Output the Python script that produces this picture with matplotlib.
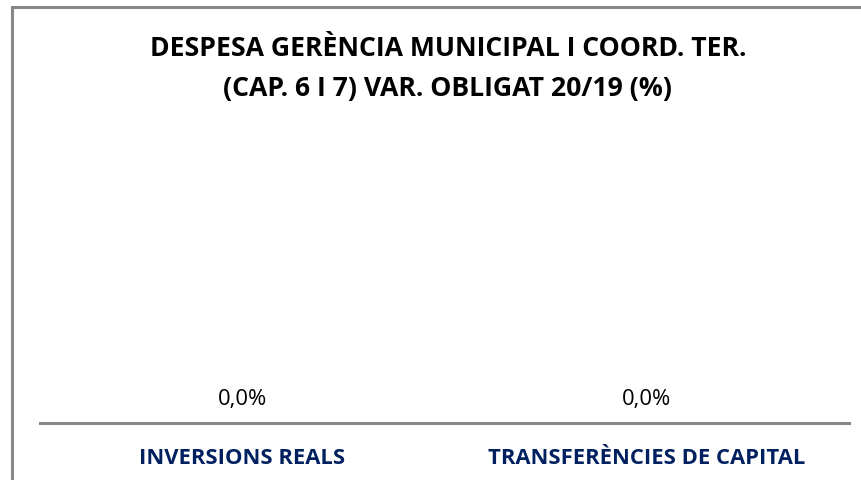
import matplotlib
matplotlib.use("Agg")
import matplotlib.pyplot as plt
from matplotlib.patches import Rectangle

categories = ["INVERSIONS REALS", "TRANSFERÈNCIES DE CAPITAL"]
var_values = [0.0, 0.0]
title = "DESPESA GERÈNCIA MUNICIPAL I COORD. TER.\n(CAP. 6 I 7) VAR. OBLIGAT 20/19 (%)"

plt.rcParams['font.family'] = ['Open Sans', 'DejaVu Sans']

fig = plt.figure(figsize=(8.62, 4.81), dpi=100)
fig.patch.set_facecolor("white")

# chart area border (open at right/bottom, as in the cropped original)
fig.patches.append(Rectangle((12/862, -0.1), 1.2, (481-8)/481 + 0.1,
                             transform=fig.transFigure, fill=False,
                             edgecolor="#888888", linewidth=2.2, zorder=0))

ax = fig.add_axes([40/862, (481-424)/481, 809/862, 0.55])
x = range(len(categories))
bars = ax.bar(x, var_values, width=0.5, color="#4472c4")
ax.set_xlim(-0.5, len(categories) - 0.5)
ax.set_ylim(0, 1)

for xi, v in zip(x, var_values):
    ax.annotate(f"{v:.1f}%".replace(".", ","), (xi, v), xytext=(0, 24),
                textcoords="offset pixels", ha="center", va="center",
                fontsize=15.8, color="black")

for s in ["top", "right", "left"]:
    ax.spines[s].set_visible(False)
ax.spines["bottom"].set_color("#888888")
ax.spines["bottom"].set_linewidth(2.2)
ax.set_yticks([])
ax.set_xticks(list(x))
ax.set_xticklabels(categories, fontsize=15.8, fontweight="bold", color="#002060")
ax.tick_params(axis="x", length=0, pad=17)

fig.text(448/862, 1 - 69/481, title, ha="center", va="center",
         fontsize=19.2, fontweight="bold", color="black", linespacing=1.72)

fig.savefig("out.png", dpi=100)
